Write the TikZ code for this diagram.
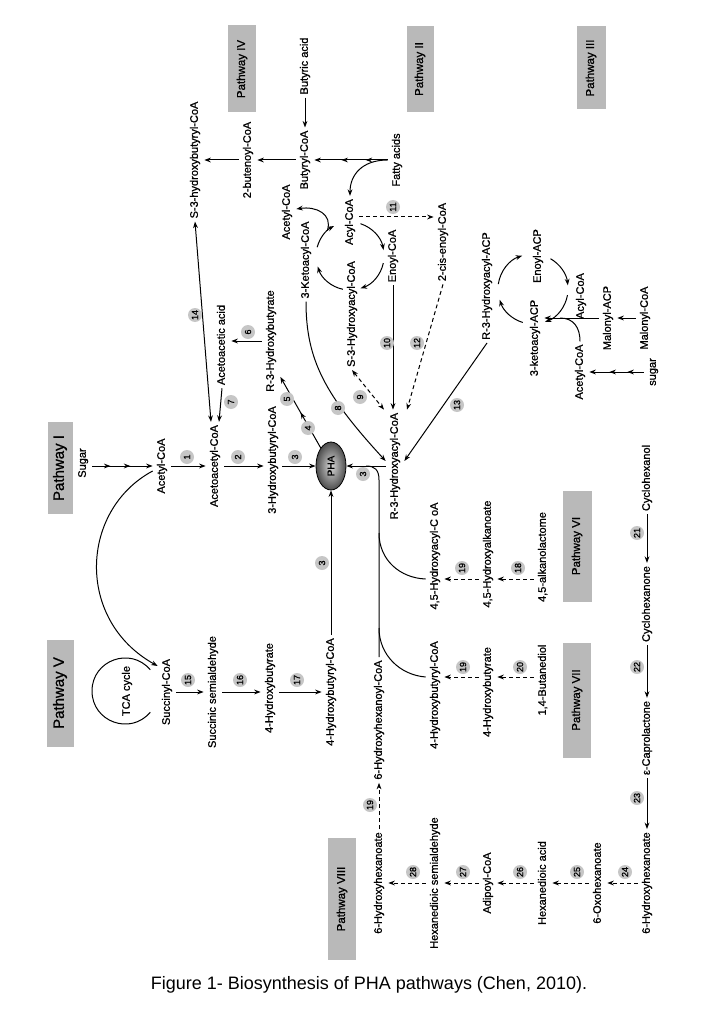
\documentclass[tikz,border=0pt]{standalone}
\usepackage{fontspec}
\setmainfont{Liberation Sans}
\newfontfamily\lblfont{Liberation Sans}[FakeBold=0.9]
\usetikzlibrary{arrows.meta, shapes.geometric, decorations.markings}
\tikzset{
  met/.style={rotate=90, font=\lblfont\fontsize{11}{13}\selectfont, text height=8pt, text depth=2.3pt, inner xsep=3pt, inner ysep=4pt},
  num/.style={circle, fill=gray!45, rotate=90, inner sep=0pt, minimum size=14pt, font=\lblfont\fontsize{9}{10}\selectfont},
  pway/.style={fill=gray!55, rotate=90, inner sep=0pt, font=\lblfont\fontsize{11.5}{14}\selectfont},
  bigpway/.style={pway, font=\lblfont\fontsize{15}{18}\selectfont},
  phablob/.style={ellipse, draw, thick, rotate=90, minimum width=48pt, minimum height=30pt, inner sep=0pt, shading=radial, inner color=gray!30, outer color=black!70, font=\lblfont\fontsize{10}{12}\selectfont},
  rxn/.style={->, line width=1pt},
  drxn/.style={rxn, dash pattern=on 4pt off 3pt},
  twoway/.style={<->, line width=1pt},
  multi/.style={rxn, postaction={decorate}, decoration={markings, mark=at position 0.3 with {\arrow{>}}, mark=at position 0.63 with {\arrow{>}}}},
  midarr/.style={rxn, postaction={decorate}, decoration={markings, mark=at position 0.5 with {\arrow{>}}}}
}

\begin{document}
\begin{tikzpicture}[x=1pt, y=-1pt, >={Stealth[length=6.5pt,width=4.8pt]}]
\useasboundingbox (0,0) rectangle (704,1016);
%% pathway boxes
  \node[bigpway, minimum width=92pt, minimum height=25pt] (pI) at (60,468) {Pathway I};
  \node[bigpway, minimum width=107pt, minimum height=27pt] (pV) at (60,693) {Pathway V};
  \node[pway, minimum width=87pt, minimum height=28pt] (pIV) at (242,69) {Pathway IV};
  \node[pway, minimum width=86pt, minimum height=27pt] (pII) at (420,69) {Pathway II};
  \node[pway, minimum width=83pt, minimum height=29pt] (pIII) at (591,68) {Pathway III};
  \node[pway, minimum width=111pt, minimum height=29pt] (pVI) at (577,546) {Pathway VI};
  \node[pway, minimum width=115pt, minimum height=28pt] (pVII) at (577,700) {Pathway VII};
  \node[pway, minimum width=122pt, minimum height=28pt] (pVIII) at (342,899) {Pathway VIII};

%% pathway I
	\node[met] (sugarI) at (83,463) {Sugar};
	\node[met] (acoaI) at (162,466) {Acetyl-CoA};
	\node[met] (aacoa) at (215,466) {Acetoacetyl-CoA};
	\node[met] (hbcoa) at (273,460) {3-Hydroxybutyryl-CoA};
	\node[phablob] (pha) at (331,466) {PHA};
  \draw[multi] (sugarI.south |- acoaI) -- (acoaI.north);
  \draw[rxn] (acoaI.south) -- (aacoa.north);
  \draw[rxn] (aacoa.south) -- (hbcoa.north |- aacoa);
  \draw[rxn] (hbcoa.south |- pha) -- (pha);
	\node[num] (n1) at (187,457) {1};
	\node[num] (n2) at (238,457) {2};
	\node[num] (n3a) at (295,457) {3};

%% pathway IV
	\node[met] (butacid) at (305,66) {Butyric acid};
	\node[met] (butcoa) at (305,160) {Butyryl-CoA};
	\node[met] (butenoyl) at (248,160) {2-butenoyl-CoA};
	\node[met] (s3hb) at (195,160) {S-3-hydroxybutyryl-CoA};
	\node[met] (aaacid) at (222,345) {Acetoacetic acid};
	\node[met] (r3hb) at (271,341) {R-3-Hydroxybutyrate};
  \draw[rxn] (butacid.west) -- (butcoa.east);
  \draw[rxn] (butcoa.north) -- (butenoyl.south);
  \draw[rxn] (butenoyl.north) -- (s3hb.south);
  \draw[twoway] (s3hb.west) -- ([xshift=-4pt]aacoa.east);
  \draw[rxn] (aaacid.west) -- ([xshift=4pt]aacoa.east);
  \draw[rxn] (r3hb.north) -- (r3hb.north -| aaacid.south);
  \draw[midarr] (pha) -- ([yshift=18pt]r3hb.south west);
	\node[num] (n14) at (195,315) {14};
	\node[num] (n7) at (231,402) {7};
	\node[num] (n6) at (248,332) {6};
	\node[num] (n5) at (287,399) {5};
	\node[num] (n4) at (308,428) {4};

%% pathway II
	\node[met] (fatty) at (397,160) {Fatty acids};
	\node[met] (acoaII) at (287,212) {Acetyl-CoA};
	\node[met] (keto) at (306,260) {3-Ketoacyl-CoA};
	\node[met] (acyl) at (350,222) {Acyl-CoA};
	\node[met] (enoyl) at (393,256) {Enoyl-CoA};
	\node[met] (s3ha) at (352,314) {S-3-Hydroxyacyl-CoA};
	\node[met] (cisenoyl) at (443,242) {2-cis-enoyl-CoA};
	\node[met] (r3hacoa) at (395,466) {R-3-Hydroxyacyl-CoA};
  \draw[multi] (fatty.north) -- (butcoa.south);
  \draw[rxn] (fatty.north) .. controls (362,160) and (350,175) .. (acyl.east);
  % beta-oxidation cycle
  \draw[rxn] (360.5,223.7) .. controls (372.5,227.6) and (381.3,237.7) .. (383.5,250.1);
  \draw[rxn] (383.3,263.1) .. controls (380.8,275.0) and (372.1,284.5) .. (360.5,288.3);
  \draw[rxn] (342.9,289.3) .. controls (331.0,286.8) and (321.4,278.1) .. (317.7,266.5);
  \draw[rxn] (317.2,247.2) .. controls (319.6,238.1) and (325.7,230.4) .. (334.0,226.0);
  \draw[rxn] (327.3,230.7) .. controls (333,214) and (316,206) .. ([yshift=3pt]acoaII.south);
  \draw[drxn] ([yshift=5pt]acyl.south) -- ([yshift=5pt]acyl.south -| cisenoyl.north);
  \draw[rxn] (enoyl.west) -- (enoyl.west |- r3hacoa.east);
  \draw[drxn] (cisenoyl.west) -- ([xshift=12pt]r3hacoa.east);
  \draw[twoway, dash pattern=on 4pt off 3pt] (s3ha.west) -- ([xshift=-11pt]r3hacoa.east);
  \draw[rxn] (keto.west) .. controls (306,360) and (325,395) .. ([yshift=5pt]r3hacoa.north);
  \draw[rxn] (r3hacoa.north) -- (pha);
	\node[num] (n11) at (393,207) {11};
	\node[num] (n8) at (338,408) {8};
	\node[num] (n9) at (360,397) {9};
	\node[num] (n10) at (387,343) {10};
	\node[num] (n12) at (417,343) {12};
	\node[num] (n13) at (457,405) {13};
	\node[num] (n3b) at (363,474) {3};

%% pathway III
	\node[met] (r3hacp) at (487,286) {R-3-Hydroxyacyl-ACP};
	\node[met] (enacp) at (538,256) {Enoyl-ACP};
	\node[met] (acylIII) at (581,296) {Acyl-CoA};
	\node[met] (ketacp) at (535,338) {3-ketoacyl-ACP};
	\node[met] (malacp) at (608,318) {Malonyl-ACP};
	\node[met] (malcoa) at (645,318) {Malonyl-CoA};
	\node[met] (acoaIII) at (580,372) {Acetyl-CoA};
	\node[met] (sugarIII) at (653,372) {sugar};
  % fatty acid synthesis cycle
  \draw[rxn] (498.3,284.1) .. controls (500.2,270.9) and (509.5,259.8) .. (522.2,255.7);
  \draw[rxn] (550.5,258.7) .. controls (560.2,264.3) and (566.6,274.2) .. (567.8,285.3);
  \draw[rxn] (567.5,295.1) .. controls (565.3,307.4) and (556.7,317.6) .. (545.0,321.9);
  \draw[rxn] (522.8,322.5) .. controls (511.9,319.2) and (503.2,310.7) .. (499.7,299.8);
  \draw[rxn] (malcoa.north) -- (malacp.south);
  \draw[rxn] (malacp.north) -- (malacp.north -| ketacp.south);
  \draw[line width=1pt] (acoaIII.east) .. controls (580,328) and (574,318) .. (560,318);
  \draw[multi] (sugarIII.north) -- (acoaIII.south);
  \draw[rxn] (r3hacp.west) -- ([yshift=5pt]r3hacoa.south);

%% pathway V
	\node[met] (tca) at (127,691) {TCA cycle};
	\node[met] (succoa) at (167,692) {Succinyl-CoA};
	\node[met] (ssa) at (213,692) {Succinic semialdehyde};
	\node[met] (hbutV) at (270,688) {4-Hydroxybutyrate};
	\node[met] (hbcoaV) at (331,692) {4-Hydroxybutyryl-CoA};
	\node[met] (hhcoa) at (379,720) {6-Hydroxyhexanoyl-CoA};
  \draw[line width=1pt] (150.3,712.2) .. controls (130.5,735.8) and (92,721.8) .. (92,691)
        .. controls (92,660.2) and (130.5,646.2) .. (150.3,669.8);
  \draw[rxn] ([yshift=-5pt]acoaI.north) .. controls (80,510) and (75,620) .. ([yshift=26pt]succoa.north);
  \draw[rxn] (succoa.south) -- (ssa.north);
  \draw[rxn] (ssa.south) -- (hbutV.north |- ssa);
  \draw[rxn] (hbutV.south |- ssa) -- (hbcoaV.north);
  \draw[rxn] (hbcoaV.east) -- (pha);
  \draw[line width=1pt] (hhcoa.east) -- (379,480) .. controls (379,470) and (375,466) .. (366,466);
	\node[num] (n15) at (188,680) {15};
	\node[num] (n16) at (240,680) {16};
	\node[num] (n17) at (297,680) {17};
	\node[num] (n3c) at (322,563) {3};

%% pathway VI
  \coordinate (rowVI) at (0,579);
	\node[met] (hacoa) at (435,556) {4,5-Hydroxyacyl-C oA};
	\node[met] (halk) at (488,554) {4,5-Hydroxyalkanoate};
	\node[met] (alkl) at (543,557) {4,5-alkanolactome};
  \draw[drxn] (halk.north |- rowVI) -- (hacoa.south |- rowVI);
  \draw[drxn] (alkl.north |- rowVI) -- (halk.south |- rowVI);
  \draw[line width=1pt] (hacoa.north |- rowVI) .. controls (400,578) and (379,560) .. (379,533);
	\node[num] (n19a) at (462,568) {19};
	\node[num] (n18) at (518,568) {18};

%% pathway VII
  \coordinate (rowVII) at (0,677);
	\node[met] (hbcoaVII) at (435,695) {4-Hydroxybutyryl-CoA};
	\node[met] (hbutVII) at (488,692) {4-Hydroxybutyrate};
	\node[met] (bdiol) at (543,680) {1,4-Butanediol};
  \draw[drxn] (hbutVII.north |- rowVII) -- (hbcoaVII.south |- rowVII);
  \draw[drxn] (bdiol.north |- rowVII) -- (hbutVII.south |- rowVII);
  \draw[line width=1pt] (hbcoaVII.north |- rowVII) .. controls (400,675) and (379,655) .. (379,628);
	\node[num] (n19b) at (463,667) {19};
	\node[num] (n20) at (520,667) {20};

%% pathway VIII
  \coordinate (rowVIII) at (0,883);
	\node[met] (cyol) at (647,478) {Cyclohexanol};
	\node[met] (cyone) at (647,604) {Cyclohexanone};
	\node[met] (capro) at (647,738) {ε-Caprolactone};
	\node[met] (hhexa) at (647,883) {6-Hydroxyhexanoate};
	\node[met] (oxo) at (598,883) {6-Oxohexanoate};
	\node[met] (hda) at (543,883) {Hexanedioic acid};
	\node[met] (adip) at (488,883) {Adipoyl-CoA};
	\node[met] (hdsa) at (435,883) {Hexanedioic semialdehyde};
	\node[met] (hhexb) at (379,883) {6-Hydroxyhexanoate};
  \draw[rxn] (cyol.west) -- (cyone.east);
  \draw[rxn] (cyone.west) -- (capro.east);
  \draw[rxn] (capro.west) -- (hhexa.east);
  \draw[drxn] (hhexa.north) -- (oxo.south);
  \draw[drxn] (oxo.north) -- (hda.south);
  \draw[drxn] (hda.north) -- (adip.south);
  \draw[drxn] (adip.north) -- (hdsa.south);
  \draw[drxn] (hdsa.north) -- (hhexb.south);
  \draw[drxn] (hhexb.east) -- (hhcoa.west);
	\node[num] (n21) at (637,533) {21};
	\node[num] (n22) at (637,667) {22};
	\node[num] (n23) at (637,798) {23};
	\node[num] (n24) at (625,872) {24};
	\node[num] (n25) at (577,872) {25};
	\node[num] (n26) at (520,872) {26};
	\node[num] (n27) at (463,872) {27};
	\node[num] (n28) at (413,872) {28};
	\node[num] (n19c) at (370,805) {19};

%% caption
  \node[font=\fontsize{18}{22}\selectfont] (caption) at (369,985) {Figure 1- Biosynthesis of PHA pathways (Chen, 2010).};
\end{tikzpicture}
\end{document}
